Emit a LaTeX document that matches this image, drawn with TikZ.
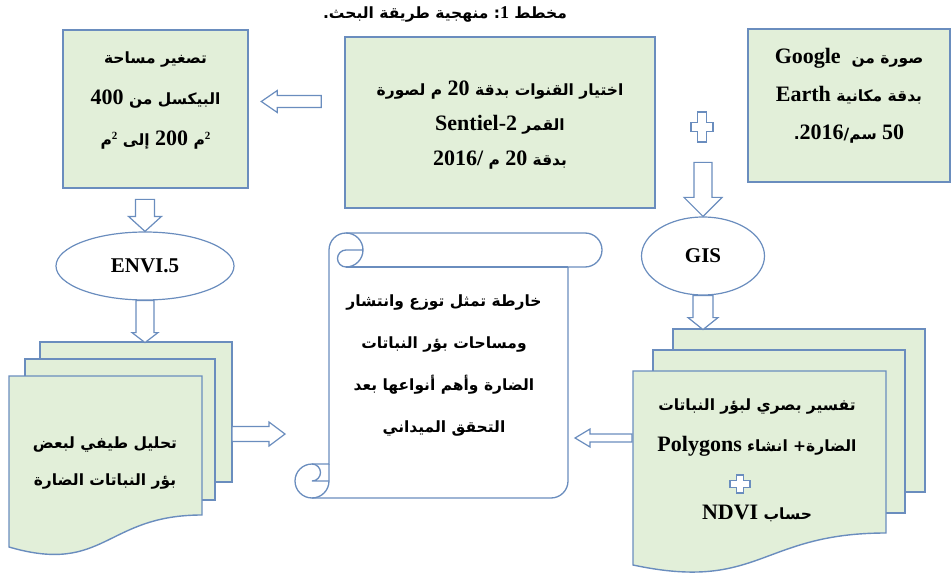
\documentclass[tikz,border=0pt]{standalone}
\usepackage{fontspec}
\setmainfont{Liberation Serif}
\newfontfamily\arabicfont[Script=Arabic]{DejaVu Sans}
\TeXXeTstate=1
\usetikzlibrary{shapes.geometric,calc}

\definecolor{boxfill}{HTML}{E2EFD9}
\definecolor{boxline}{HTML}{6A8DBE}

\newcommand{\arfont}[1][38]{\arabicfont\bfseries\fontsize{15.5}{#1}\selectfont}
\newcommand{\lat}[2][22]{\beginL{\rmfamily\bfseries\fontsize{#1}{#1}\selectfont #2}\endL}
\newcommand{\sqr}{\raisebox{0.8ex}{\rmfamily\bfseries\fontsize{11}{11}\selectfont 2}}

\begin{document}
\begin{tikzpicture}[x=1pt, y=-1pt,
    box/.style={draw=boxline, line width=1.4pt, fill=boxfill, inner sep=0pt},
    tool/.style={ellipse, draw=boxline, line width=1.2pt, fill=white, inner sep=0pt, font=\rmfamily\bfseries\fontsize{21}{25}\selectfont},
    page/.style={draw=boxline, line width=1.4pt, fill=boxfill},
    hollow/.style={draw=boxline, line width=1.2pt, fill=white},
    txt/.style={align=center, font=\arfont},
    pics/blockarrow/.style args={#1/#2/#3/#4}{code={
      \draw[hollow] (0,-#2) -- (#1-#4,-#2) -- (#1-#4,-#3) -- (#1,0) -- (#1-#4,#3) -- (#1-#4,#2) -- (0,#2) -- cycle;
    }},
    pics/plussign/.style args={#1/#2/#3}{code={
      \draw[hollow] (-#3,-#2) -- (#3,-#2) -- (#3,-#3) -- (#1,-#3) -- (#1,#3) -- (#3,#3) -- (#3,#2)
        -- (-#3,#2) -- (-#3,#3) -- (-#1,#3) -- (-#1,-#3) -- (-#3,-#3) -- cycle;
    }}]
  \useasboundingbox (0,0) rectangle (951,575);

  % title
  \node[font=\arabicfont\bfseries\fontsize{15.5}{17}\selectfont] (title) at (445,14)
    {\beginR مخطط \lat[18]{1}:\ منهجية طريقة البحث.\endR};

  % top row
  \node[box, minimum width=185pt, minimum height=158pt] (reduce) at (155.5,109) {};
  \node[txt, font={\arfont[41]}] (reduceText) at ($(reduce.center)+(0,-8)$)
    {\beginR تصغير مساحة\endR\\ \beginR البيكسل من \lat{400}\endR\\ م\sqr\ إلى \lat{200} م\sqr};
  \node[box, minimum width=310pt, minimum height=171pt] (bands) at (500,122.5) {};
  \node[txt, font={\arfont[35]}] (bandsText) at ($(bands.center)+(0,3)$)
    {\beginR اختيار القنوات بدقة \lat{20} م لصورة\endR\\ \beginR القمر \lat{Sentiel-2}\endR\\ \beginR بدقة \lat{20} م \lat{2016/}\endR};
  \node[box, minimum width=202pt, minimum height=153pt] (google) at (849,105.5) {};
  \node[txt, font={\arfont[38]}] (googleText) at ($(google.center)+(0,-10)$)
    {\beginR صورة من\ \ \lat{Google}\endR\\ \lat{Earth} \beginR بدقة مكانية\endR\\ \beginR \lat{50} سم/\lat{2016}.\endR};

  % software
  \node[tool, minimum width=178pt, minimum height=68pt] (envi) at (145,266) {ENVI.5};
  \node[tool, minimum width=123pt, minimum height=78pt] (gis) at (703,256) {GIS};

  % left stack
  \draw[page] (40,342) rectangle (232,482);
  \draw[page] (25,359) rectangle (215,500);
  \draw[page] (9,376) -- (202,376) -- (202,515) .. controls (105,515) and (105,575) .. (9,547) -- cycle;
  \node[txt, font={\arfont[37]}] (analysis) at (105,463)
    {\beginR تحليل طيفي لبعض\endR\\ \beginR بؤر النباتات الضارة\endR};

  % right stack
  \draw[page] (673,329) rectangle (925,492);
  \draw[page] (653,350) rectangle (905,513);
  \draw[page] (633,371) -- (886,371) -- (886,533) .. controls (760,533) and (760,592) .. (633,565) -- cycle;
  \node[txt, font={\arfont[41]}] (interp) at (757,428)
    {\beginR تفسير بصري لبؤر النباتات\endR\\ \beginR الضارة+ انشاء \lat{Polygons}\endR};
  \pic at (740,484) {plussign=10/9/3.5};
  \node[txt] (ndvi) at (757,513) {\beginR حساب \lat{NDVI}\endR};

  % scroll
  \draw[hollow, line width=1.3pt] (329,464) -- (329,250) arc[start angle=180, end angle=90, radius=17pt]
    -- (585,233) arc[start angle=90, end angle=-90, radius=17pt]
    -- (568,267) -- (568,481) arc[start angle=0, end angle=-90, radius=17pt]
    -- (312,498) arc[start angle=-90, end angle=-270, radius=17pt] -- cycle;
  \draw[boxline, line width=1.3pt] (346,233) arc[start angle=90, end angle=-90, radius=17pt]
    arc[start angle=-90, end angle=-270, radius=8.5pt] -- (363,250);
  \draw[boxline, line width=1.3pt] (568,267) -- (346,267);
  \draw[boxline, line width=1.3pt] (312,464) arc[start angle=90, end angle=-90, radius=8.5pt] -- (329,481);
  \draw[boxline, line width=1.3pt] (312,498) arc[start angle=-90, end angle=0, radius=17pt] -- (329,464);
  \node[txt, font={\arfont[42]}] (map) at (444,366)
    {\beginR خارطة تمثل توزع وانتشار\endR\\ \beginR ومساحات بؤر النباتات\endR\\
     \beginR الضارة وأهم أنواعها بعد\endR\\ \beginR التحقق الميداني\endR};
  \coordinate (leftedge) at (232,434);
  \coordinate (rightedge) at (632,438);

  % arrows
  \pic[rotate=180] at ($(bands.west)+(-23,-21)$) {blockarrow=60/6/11/16};
  \pic[rotate=-90] at ($(envi.north)+(0,-32)$) {blockarrow=32/9.5/16.5/15};
  \pic[rotate=-90] at (envi.south) {blockarrow=42/9/13/10};
  \pic at (leftedge) {blockarrow=53/7.5/12/16};
  \pic[rotate=180] at (rightedge) {blockarrow=57/4/9/15};
  \pic at (702,127) {plussign=11/15/4.5};
  \pic[rotate=-90] at ($(gis.north)+(0,-54)$) {blockarrow=54/9/19/19};
  \pic[rotate=-90] at (gis.south) {blockarrow=34/10/15/12};
\end{tikzpicture}
\end{document}
